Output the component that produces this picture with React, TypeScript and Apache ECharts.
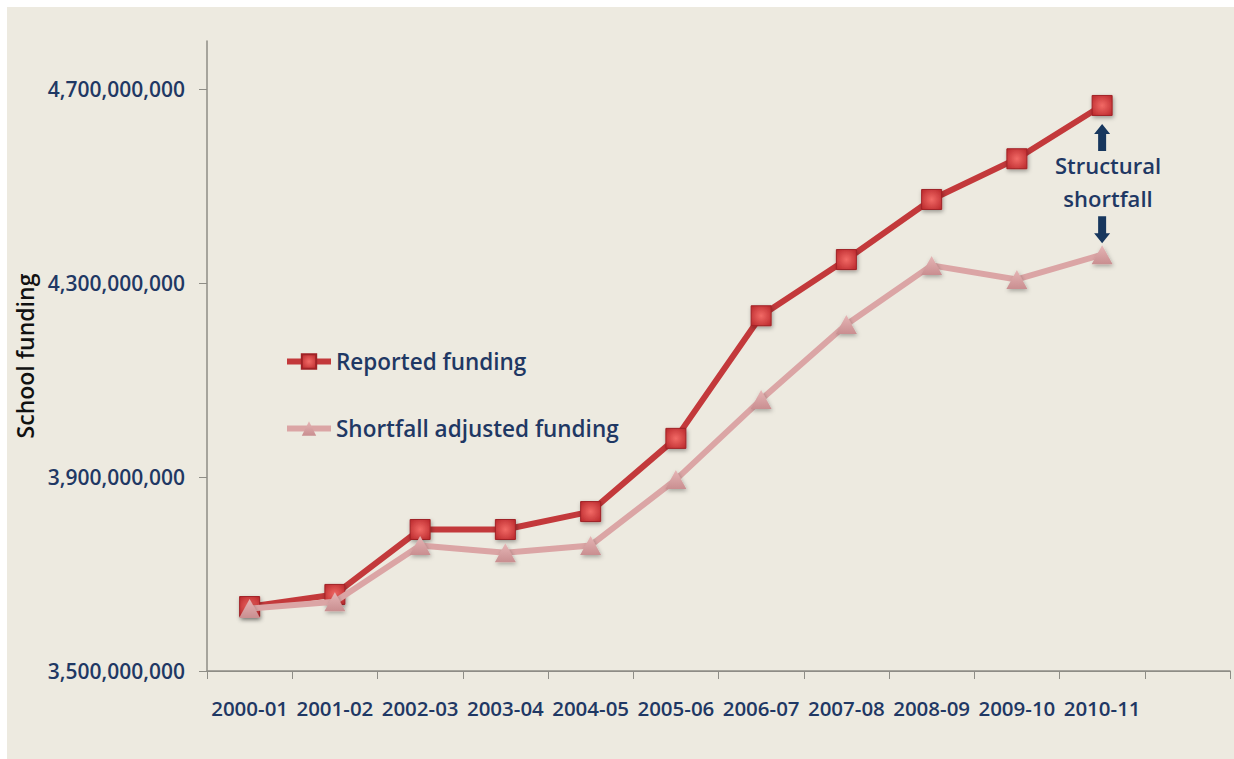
import React, { useEffect, useRef } from "react";
import * as echarts from "echarts";

const categories = [
  "2000-01", "2001-02", "2002-03", "2003-04", "2004-05", "2005-06",
  "2006-07", "2007-08", "2008-09", "2009-10", "2010-11", "",
];
const reportedFunding = [
  3633e6, 3658e6, 3792e6, 3792e6, 3829e6, 3980e6, 4233e6, 4349e6, 4473e6, 4557e6, 4667e6,
];
const adjustedFunding = [
  3629e6, 3643e6, 3759e6, 3744e6, 3759e6, 3895e6, 4060e6, 4215e6, 4337e6, 4308e6, 4359e6,
];
const yTickValues = [3500e6, 3900e6, 4300e6, 4700e6];
const yMin = 3500e6;
const yMax = 4800e6;
const yStep = 100e6;

const FONT = "'Open Sans', Lato, sans-serif";
const NAVY = "#1F3864";
const GRID = "#8E8D86";

export default function App() {
  const ref = useRef<HTMLDivElement>(null);
  useEffect(() => {
    if (!ref.current) return;
    const chart = echarts.init(ref.current, undefined, { renderer: "svg" });
    const lastIdx = reportedFunding.length - 1;
    chart.setOption({
      animation: false,
      backgroundColor: "#EDEAE0",
      textStyle: { fontFamily: FONT },
      grid: {
        left: 200,
        right: 4,
        top: 34,
        bottom: 88,
        containLabel: false,
        outerBoundsMode: "none",
      },
      legend: {
        orient: "vertical",
        left: 272,
        top: 338,
        itemWidth: 44,
        itemHeight: 18,
        itemGap: 44,
        lineStyle: { width: "inherit" },
        textStyle: { color: NAVY, fontSize: 22.5, fontWeight: 600, fontFamily: FONT },
        data: ["Reported funding", "Shortfall adjusted funding"],
      },
      xAxis: {
        type: "category",
        data: categories,
        boundaryGap: true,
        axisLine: { lineStyle: { color: GRID, width: 1.5 } },
        axisTick: { show: true, length: 8, lineStyle: { color: GRID } },
        axisLabel: {
          color: NAVY,
          fontSize: 20.5,
          fontWeight: 600,
          fontFamily: FONT,
          margin: 26,
          interval: 0,
        },
      },
      yAxis: {
        type: "value",
        min: yMin,
        max: yMax,
        interval: yStep,
        name: "School funding",
        nameLocation: "middle",
        nameGap: 156,
        nameTextStyle: { color: "#111111", fontSize: 23, fontWeight: 600, fontFamily: FONT },
        axisLine: { show: true, lineStyle: { color: GRID, width: 1.5 } },
        axisTick: {
          show: true,
          length: 8,
          customValues: yTickValues,
          lineStyle: { color: GRID },
        },
        axisLabel: {
          color: NAVY,
          fontSize: 21,
          fontWeight: 600,
          fontFamily: FONT,
          margin: 22,
          formatter: (v: number) =>
            yTickValues.some((t) => Math.abs(t - v) < 1) ? Math.round(v).toLocaleString("en-US") : "",
        },
        splitLine: {
          show: true,
          lineStyle: { color: [GRID, "transparent", "transparent", "transparent"], width: 1.2 },
        },
      },
      series: [
        {
          name: "Reported funding",
          type: "line",
          data: reportedFunding,
          symbol: "rect",
          symbolSize: 20,
          lineStyle: { color: "#C3393B", width: 6 },
          itemStyle: {
            color: {
              type: "radial",
              x: 0.5,
              y: 0.5,
              r: 0.7,
              colorStops: [
                { offset: 0, color: "#F26A66" },
                { offset: 1, color: "#B8262A" },
              ],
            },
            borderColor: "#A02226",
            borderWidth: 1,
            shadowColor: "rgba(0,0,0,0.35)",
            shadowBlur: 4,
            shadowOffsetX: 1,
            shadowOffsetY: 2,
          },
          markPoint: {
            symbol: "path://M8 0 L16 10 L12 10 L12 27 L4 27 L4 10 L0 10 Z",
            symbolSize: [16, 27],
            symbolKeepAspect: false,
            label: { show: false },
            itemStyle: { color: "#17375E" },
            data: [
              {
                coord: [categories[lastIdx], reportedFunding[lastIdx]],
                symbolOffset: [0, 32],
              },
            ],
          },
          z: 2,
        },
        {
          name: "Shortfall adjusted funding",
          type: "line",
          data: adjustedFunding,
          symbol: "triangle",
          symbolSize: [21, 19],
          lineStyle: { color: "#DBA5A5", width: 6 },
          itemStyle: {
            color: {
              type: "linear",
              x: 0,
              y: 0,
              x2: 0,
              y2: 1,
              colorStops: [
                { offset: 0, color: "#E6B6B6" },
                { offset: 1, color: "#C98E90" },
              ],
            },
            shadowColor: "rgba(0,0,0,0.3)",
            shadowBlur: 4,
            shadowOffsetX: 1,
            shadowOffsetY: 2,
          },
          markPoint: {
            symbol: "path://M4 0 L12 0 L12 17 L16 17 L8 27 L0 17 L4 17 Z",
            symbolSize: [16, 27],
            symbolKeepAspect: false,
            label: { show: false },
            itemStyle: { color: "#17375E" },
            data: [
              {
                coord: [categories[lastIdx], adjustedFunding[lastIdx]],
                symbolOffset: [0, -25],
              },
            ],
          },
          z: 3,
        },
      ],
      graphic: [
        {
          type: "text",
          left: 1043,
          top: 141,
          style: {
            text: "Structural\nshortfall",
            fill: NAVY,
            font: `600 22px ${FONT}`,
            fontSize: 22,
            fontWeight: 600,
            fontFamily: FONT,
            lineHeight: 33,
            align: "center",
            textAlign: "center",
            width: 116,
          },
        },
      ],
    });
    return () => chart.dispose();
  }, []);
  return (
    <div style={{ position: "fixed", left: 0, top: 0, width: 1234, height: 759, background: "#ffffff", overflow: "hidden" }}>
      <div ref={ref} style={{ position: "absolute", left: 7, top: 7, width: 1227, height: 752 }} />
    </div>
  );
}
